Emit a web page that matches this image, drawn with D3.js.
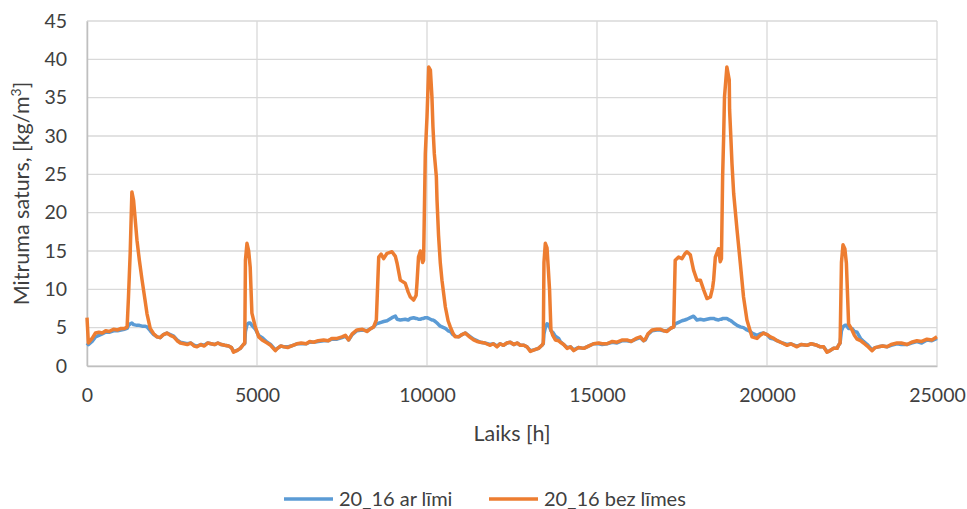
<!DOCTYPE html>
<html>
<head>
<meta charset="utf-8">
<script src="https://cdn.jsdelivr.net/npm/d3@7"></script>
<style>
  body { margin: 0; background: #fff; }
  text { font-family: Lato, "Open Sans", sans-serif; fill: #404040; }
</style>
</head>
<body>
<div id="chart"></div>
<script>
// hours (x values)
var hours = [0,40,150,250,350,450,550,650,780,900,1000,1100,1180,1220,1270,1320,1370,1470,1540,1620,1700,1765,1860,1960,2060,2150,2250,2350,2450,2550,2650,2745,2850,2950,3050,3150,3235,3350,3450,3550,3650,3750,3850,3950,4050,4165,4250,4310,4400,4510,4600,4640,4660,4705,4755,4800,4850,4950,5050,5150,5300,5400,5540,5600,5700,5800,5900,6000,6175,6300,6450,6550,6665,6800,6960,7100,7200,7355,7500,7600,7695,7800,7940,8100,8235,8350,8430,8510,8580,8650,8725,8825,8970,9070,9120,9215,9360,9450,9510,9605,9680,9705,9750,9805,9870,9900,9950,10000,10050,10100,10145,10175,10215,10275,10295,10340,10390,10440,10540,10620,10685,10760,10830,10930,11030,11125,11250,11370,11470,11570,11700,11860,11950,12060,12150,12250,12350,12450,12550,12650,12745,12850,12940,13040,13150,13280,13380,13420,13440,13480,13530,13570,13605,13645,13700,13775,13870,13920,14020,14120,14220,14315,14450,14610,14750,14900,15050,15150,15295,15450,15590,15750,15880,16000,16150,16275,16370,16420,16500,16620,16760,16860,16960,17060,17160,17255,17300,17400,17500,17580,17645,17745,17840,17940,18040,18140,18235,18335,18400,18430,18480,18575,18625,18660,18695,18725,18750,18820,18890,18900,18940,18970,19020,19120,19215,19310,19410,19510,19560,19705,19800,19900,20000,20100,20200,20295,20450,20590,20700,20880,21000,21175,21300,21470,21570,21665,21765,21810,21960,22060,22105,22150,22190,22235,22290,22335,22400,22500,22570,22650,22750,22840,22950,23090,23180,23280,23400,23530,23650,23825,23950,24120,24250,24410,24550,24705,24850,25000];

// "20_16 bez līmes" (orange)
var bezLimes = [6.3,3.0,3.6,4.3,4.4,4.3,4.6,4.5,4.8,4.7,4.9,4.9,5.1,9.0,14.7,22.7,21.6,16.4,13.8,11.2,8.8,6.8,4.9,4.2,3.8,3.7,4.1,4.3,4.0,3.8,3.3,3.0,2.9,2.8,3.0,2.6,2.5,2.8,2.6,3.0,2.9,2.8,3.0,2.8,2.7,2.6,2.4,1.8,2.0,2.3,2.8,3.0,13.8,16.0,15.0,12.9,6.9,5.1,3.8,3.4,3.0,2.7,2.0,2.3,2.6,2.5,2.4,2.6,2.9,3.0,2.9,3.2,3.1,3.3,3.4,3.3,3.6,3.6,3.8,4.0,3.4,4.2,4.7,4.8,4.5,4.9,5.1,6.0,14.2,14.6,14.0,14.7,14.9,14.3,13.4,11.2,10.8,9.6,9.0,8.6,9.2,10.8,14.2,15.0,13.5,13.8,27.7,32.5,39.0,38.6,35.1,31.2,27.7,24.7,21.6,17.0,13.5,11.2,7.7,5.9,5.1,4.3,3.8,3.8,4.1,4.3,3.8,3.4,3.2,3.1,3.0,2.7,2.9,2.5,2.9,2.7,3.0,3.1,2.8,3.0,2.7,2.7,2.5,1.9,2.1,2.3,2.7,3.0,13.5,16.0,15.4,12.5,9.9,4.7,4.0,3.4,3.3,3.1,2.8,2.3,2.5,2.0,2.4,2.3,2.6,2.9,3.0,2.9,2.9,3.2,3.1,3.4,3.4,3.2,3.6,3.8,3.3,3.5,4.2,4.7,4.8,4.8,4.6,4.5,4.9,5.1,13.8,14.2,14.0,14.6,14.9,14.5,12.5,11.2,11.2,9.9,8.8,9.0,10.2,11.2,14.2,15.3,13.6,14.0,24.7,29.9,35.1,39.0,37.3,33.4,29.5,26.4,22.5,17.7,13.4,9.0,6.0,4.5,3.8,3.6,4.0,4.3,4.1,3.8,3.6,3.3,3.0,2.7,2.9,2.5,2.8,2.7,2.9,2.7,2.5,2.5,1.8,1.9,2.3,2.3,2.7,3.0,13.5,15.8,15.3,13.4,5.5,4.7,4.0,3.5,3.3,3.0,2.6,2.0,2.4,2.5,2.6,2.5,2.8,3.0,3.0,2.8,3.1,3.3,3.2,3.5,3.4,3.8];

// "20_16 ar līmi" (blue)
var arLimi = [3.0,2.8,3.2,3.8,4.0,4.2,4.4,4.4,4.6,4.6,4.7,4.8,4.9,5.3,5.5,5.6,5.4,5.3,5.3,5.2,5.2,5.1,4.6,4.1,3.8,3.7,4.1,4.3,4.1,3.9,3.4,3.1,3.0,2.9,3.0,2.7,2.6,2.8,2.7,3.0,2.9,2.8,3.0,2.8,2.7,2.6,2.4,1.9,2.0,2.3,2.8,2.9,4.5,5.4,5.6,5.6,5.3,4.8,4.0,3.7,3.1,2.8,2.1,2.3,2.6,2.5,2.5,2.6,2.9,2.9,2.9,3.1,3.1,3.2,3.3,3.3,3.5,3.5,3.7,3.9,3.4,4.1,4.6,4.7,4.6,4.9,5.1,5.5,5.6,5.7,5.8,5.9,6.3,6.5,6.1,6.0,6.1,6.0,6.2,6.3,6.2,6.2,6.1,6.1,6.2,6.2,6.3,6.3,6.2,6.1,6.0,6.0,5.9,5.7,5.6,5.4,5.2,5.1,4.9,4.6,4.5,4.1,3.9,3.8,4.1,4.3,3.9,3.5,3.3,3.1,3.0,2.8,2.9,2.6,2.9,2.7,3.0,3.1,2.8,3.0,2.7,2.7,2.5,2.0,2.1,2.3,2.7,2.9,4.2,5.0,5.5,5.4,5.1,4.6,4.4,3.9,3.6,3.2,2.8,2.4,2.5,2.1,2.4,2.3,2.6,2.9,2.9,2.8,2.9,3.1,3.0,3.3,3.3,3.2,3.5,3.7,3.3,3.4,4.1,4.6,4.7,4.7,4.6,4.6,4.9,5.1,5.5,5.7,5.9,6.0,6.1,6.3,6.5,6.0,6.1,6.0,6.1,6.2,6.2,6.2,6.1,6.0,6.1,6.1,6.2,6.2,6.2,6.2,6.0,6.0,5.9,5.8,5.6,5.3,5.1,5.0,4.7,4.5,4.3,4.0,4.2,4.3,4.1,3.6,3.5,3.3,3.0,2.8,2.9,2.6,2.8,2.7,2.9,2.7,2.5,2.5,1.9,1.9,2.3,2.3,2.7,3.0,4.6,5.1,5.3,5.3,4.9,4.9,4.5,4.4,3.6,3.2,2.8,2.1,2.4,2.5,2.6,2.5,2.7,2.9,2.8,2.8,3.0,3.2,3.0,3.4,3.3,3.6];

var xTicks = [0, 5000, 10000, 15000, 20000, 25000];
var yTicks = [0, 5, 10, 15, 20, 25, 30, 35, 40, 45];
var seriesNames = ["20_16 ar līmi", "20_16 bez līmes"];
var seriesColors = ["#5B9BD5", "#ED7D31"];

var width = 967, height = 509;
var margin = {top: 21, right: 30, bottom: 143, left: 87};

var svg = d3.select('#chart')
    .append('svg')
    .attr('width', width)
    .attr('height', height);

var x = d3.scaleLinear()
    .domain([0, 25000])
    .range([margin.left, width - margin.right]);

var y = d3.scaleLinear()
    .domain([0, 45])
    .range([height - margin.bottom, margin.top]);

// gridlines
svg.append("g")
    .selectAll("line")
    .data(yTicks)
    .join("line")
    .attr("x1", x(0)).attr("x2", x(25000))
    .attr("y1", d => y(d)).attr("y2", d => y(d))
    .attr("stroke", "#D9D9D9")
    .attr("stroke-width", 1.3);

svg.append("g")
    .selectAll("line")
    .data(xTicks)
    .join("line")
    .attr("x1", d => x(d)).attr("x2", d => x(d))
    .attr("y1", y(0)).attr("y2", y(45))
    .attr("stroke", "#D9D9D9")
    .attr("stroke-width", 1.3);

// axes
var xAxis = svg.append("g")
    .attr("transform", "translate(0," + y(0) + ")")
    .call(d3.axisBottom(x).tickValues(xTicks).tickFormat(d3.format("d")).tickSize(0).tickPadding(22));
xAxis.select(".domain").attr("stroke", "#BFBFBF").attr("stroke-width", 1.5);
xAxis.selectAll("text").style("font-size", "19.5px").attr("fill", "#404040");

var yAxis = svg.append("g")
    .attr("transform", "translate(" + x(0) + ",0)")
    .call(d3.axisLeft(y).tickValues(yTicks).tickSize(0).tickPadding(20));
yAxis.select(".domain").attr("stroke", "#BFBFBF").attr("stroke-width", 1.5);
yAxis.selectAll("text").style("font-size", "19.5px").attr("fill", "#404040");

// lines
var rows = hours.map((h, i) => ({h: h, a: arLimi[i], b: bezLimes[i]}));

svg.append("path")
    .datum(rows)
    .attr("fill", "none")
    .attr("stroke", seriesColors[0])
    .attr("stroke-width", 3.5)
    .attr("stroke-linejoin", "round")
    .attr("d", d3.line().x(d => x(d.h)).y(d => y(d.a)));

svg.append("path")
    .datum(rows)
    .attr("fill", "none")
    .attr("stroke", seriesColors[1])
    .attr("stroke-width", 3.5)
    .attr("stroke-linejoin", "round")
    .attr("d", d3.line().x(d => x(d.h)).y(d => y(d.b)));

// axis titles
svg.append("text")
    .attr("x", (x(0) + x(25000)) / 2)
    .attr("y", 441)
    .attr("text-anchor", "middle")
    .style("font-size", "21.5px")
    .text("Laiks [h]");

var yt = svg.append("text")
    .attr("transform", "translate(29," + ((y(0) + y(45)) / 2) + ") rotate(-90)")
    .attr("text-anchor", "middle")
    .style("font-size", "21.5px");
yt.append("tspan").text("Mitruma saturs, [kg/m");
yt.append("tspan").attr("baseline-shift", "super").style("font-size", "14px").text("3");
yt.append("tspan").text("]");

// legend
var legend = svg.append("g")
    .selectAll("g")
    .data(seriesNames)
    .join("g")
    .attr("transform", (d, i) => "translate(" + [284, 489][i] + ",499)");

legend.append("line")
    .attr("x1", 0).attr("x2", 49)
    .attr("stroke", (d, i) => seriesColors[i])
    .attr("stroke-width", 3.5);

legend.append("text")
    .attr("x", 55)
    .attr("dy", "0.35em")
    .style("font-size", "20px")
    .text(d => d);
</script>
</body>
</html>
